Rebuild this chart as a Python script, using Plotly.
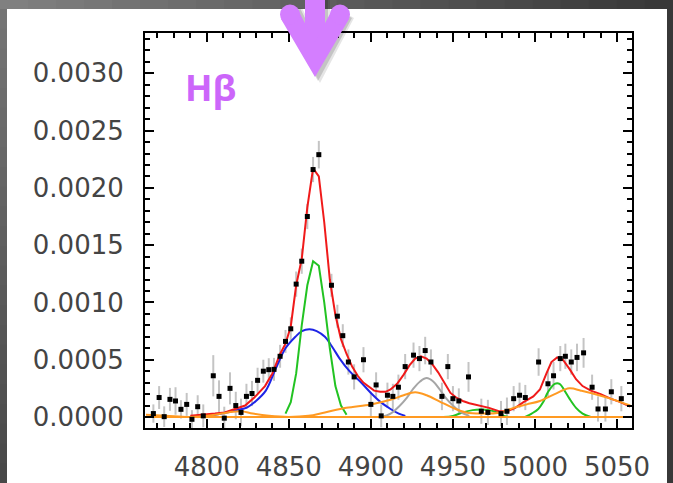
import plotly.graph_objects as go

# ---------------- data ----------------
data_x = [4767.5, 4771.0, 4774.1, 4777.6, 4781.0, 4784.3, 4787.8, 4791.0, 4794.5, 4797.9,
          4804.0, 4807.5, 4810.7, 4814.2, 4817.7, 4820.9, 4824.2, 4827.6, 4831.0, 4834.5,
          4837.8, 4841.0, 4844.7, 4848.0, 4851.2, 4854.5, 4857.9, 4861.3, 4864.8, 4868.3,
          4876.0, 4879.6, 4882.9, 4886.3, 4889.8, 4895.5, 4900.0, 4903.2, 4906.3, 4910.1,
          4913.4, 4916.8, 4920.9, 4926.0, 4929.6, 4933.1, 4936.6, 4943.3, 4946.9, 4950.0,
          4953.6, 4959.5, 4967.3, 4971.3, 4979.3, 4982.9, 4987.0, 4990.6, 4994.1, 5002.2,
          5007.9, 5011.3, 5015.4, 5018.5, 5022.1, 5025.6, 5029.6, 5034.8, 5038.4, 5042.9,
          5046.5, 5052.6]
data_y = [0.00003, 0.00017, 0.000003, 0.000154, 0.00014, 0.000067, 0.00011, -0.00002, 0.00009, 0.00001,
          0.00036, 0.00018, -0.00001, 0.00025, 0.0001, 0.00004, 0.00018, 0.000205, 0.00032, 0.0004,
          0.000413, 0.000416, 0.00053, 0.00066, 0.00077, 0.00116, 0.00136, 0.00175, 0.00216, 0.00229,
          0.00115, 0.00088, 0.00071, 0.00048, 0.00035, 0.0005, 0.00011, 0.00028, 0.00001, 0.00019,
          0.00018, 0.00026, 0.00044, 0.00054, 0.00051, 0.00058, 0.00048, 0.00018, 0.00044, 0.00016,
          0.00014, 0.00035, 0.00005, 0.00004, 0.00003, 0.00005, 0.00016, 0.00019, 0.00017, 0.00048,
          0.00029, 0.00036, 0.00051, 0.00053, 0.00048, 0.00052, 0.00056, 0.00026, 0.00007, 0.00007,
          0.00022, 0.00016]
data_err = [0.00008, 0.0001, 0.00009, 0.0001, 0.00012, 0.00008, 0.0001, 0.00008, 0.0001, 0.0001,
            0.00018, 0.00014, 0.0001, 0.00014, 0.00012, 0.00012, 0.00011, 0.00011, 0.00011, 0.0001,
            0.0001, 0.0001, 0.0001, 0.0001, 0.0001, 0.00011, 0.00011, 0.00011, 0.00011, 0.00012,
            0.0001, 0.0001, 0.0001, 0.00011, 0.00011, 0.00011, 0.00011, 0.00011, 0.0001, 0.00011,
            0.00011, 0.00011, 0.00011, 0.00011, 0.00011, 0.00012, 0.00011, 0.00012, 0.00011, 0.00011,
            0.00011, 0.00013, 0.00011, 0.00011, 0.00011, 0.00012, 0.00011, 0.00011, 0.00011, 0.00012,
            0.00011, 0.00012, 0.00011, 0.00011, 0.00011, 0.00012, 0.00013, 0.00011, 0.00011, 0.00011,
            0.00011, 0.00011]

# total model (red)
total_x = [4790, 4799, 4805, 4811, 4817, 4823.4, 4829, 4835.5, 4840, 4844.7, 4848.0, 4851.2,
           4854.5, 4857.9, 4861.3, 4864.8, 4868.3, 4871.6, 4875.0, 4878.4, 4881.8, 4885.2,
           4888.6, 4892, 4895.4, 4898.8, 4902, 4905.7, 4909, 4912, 4916, 4920, 4923.5, 4927,
           4930.5, 4934, 4937.5, 4941, 4945, 4948.5, 4952, 4956, 4960, 4966, 4972, 4978, 4983,
           4988, 4993, 4999, 5003, 5007, 5010, 5013.5, 5017, 5021, 5025, 5029, 5034, 5040,
           5046, 5052, 5058]
total_y = [0.00001, 0.00002, 0.00003, 0.00004, 0.00007, 0.0001, 0.00017, 0.00027, 0.00038, 0.00055,
           0.00064, 0.00079, 0.00115, 0.00138, 0.00183, 0.00217, 0.0021, 0.0017, 0.0012, 0.00089,
           0.00068, 0.00055, 0.00044, 0.00036, 0.0003, 0.00026, 0.00023, 0.00022, 0.00022, 0.00024,
           0.00029, 0.00037, 0.00045, 0.00051, 0.00053, 0.00051, 0.00046, 0.00039, 0.00029, 0.00021,
           0.00017, 0.00014, 0.00012, 0.0001, 0.00008, 0.00005, 0.00005, 0.00008, 0.00013, 0.00018,
           0.00024, 0.00038, 0.00048, 0.00052, 0.0005, 0.00042, 0.00033, 0.00027, 0.00023, 0.0002,
           0.00016, 0.00013, 0.00009]

# broad H-beta (blue)
broad_x = [4797, 4805, 4812, 4818, 4824, 4830, 4836, 4842, 4848, 4854, 4858, 4862.6, 4867,
           4872, 4877, 4881, 4887, 4893.5, 4900, 4906, 4912, 4917, 4921]
broad_y = [0.000005, 0.00002, 0.00004, 0.00006, 0.00008, 0.00014, 0.00023, 0.00042, 0.0006, 0.0007,
           0.00075, 0.000765, 0.00075, 0.0007, 0.0006, 0.00051, 0.0004, 0.00031, 0.00021, 0.00013,
           0.00007, 0.00003, 0.00001]

# narrow H-beta (green)
narrow_x = [4848.0, 4851.2, 4854.5, 4857.9, 4861.3, 4864.8, 4868.3, 4871.6, 4875.0, 4878.4, 4881.8, 4885.2]
narrow_y = [0.00003, 0.00013, 0.00038, 0.0008, 0.00115, 0.00136, 0.00132, 0.001, 0.0006, 0.00027, 0.0001, 0.00002]

# second narrow lines (green)
oiii_a_x = [4944, 4950, 4956, 4962, 4967, 4972, 4977, 4981, 4984]
oiii_a_y = [0.0, 0.00001, 0.00004, 0.00006, 0.000065, 0.00006, 0.00004, 0.00001, 0.0]
oiii_b_x = [4994, 4998, 5002, 5005, 5008, 5012, 5015, 5018, 5021, 5025, 5029, 5034]
oiii_b_y = [0.0, 0.00003, 0.00007, 0.00013, 0.00022, 0.00029, 0.00029, 0.00023, 0.00016, 0.00008, 0.00003, 0.0]

# grey component
grey_x = [4906, 4912, 4917, 4922, 4926, 4930, 4934, 4938, 4942, 4946, 4950, 4955, 4960]
grey_y = [0.0, 0.00003, 0.00009, 0.00017, 0.00025, 0.00031, 0.00034, 0.00031, 0.00024, 0.00016, 0.0001, 0.00004, 0.00001]

# Fe II / orange component
fe_x = [4763, 4775, 4790, 4805, 4813, 4821, 4828, 4838, 4850, 4862, 4872, 4885, 4900, 4912,
        4920, 4927, 4934, 4942, 4950, 4958, 4967, 4979, 4987, 4995, 5003, 5012, 5021, 5028,
        5034, 5046, 5058]
fe_y = [0.00002, 0.000012, 0.0, 0.00002, 0.00004, 0.00005, 0.00003, 0.00001, 0.0, 0.00001,
        0.00004, 0.00008, 0.00011, 0.00015, 0.00019, 0.000215, 0.00019, 0.000135, 0.00008, 0.00004,
        0.00003, 0.00004, 0.00008, 0.00011, 0.00014, 0.0002, 0.00025, 0.00023, 0.00021, 0.00016, 0.0001]

# continuum (flat orange)
cont_x = [4763, 5059]
cont_y = [0.0, 0.0]

x_range = [4762.4, 5059.1]
y_range = [-0.000096, 0.003352]
label_text = "Hβ"

# ---------------- figure ----------------
W, H = 673, 483
L, R, T, B = 145, 632, 33, 428


def pxx(x):
    return (x - L) / (R - L)


def pxy(y):
    return (B - y) / (B - T)


fig = go.Figure()

# error bars (under everything)
fig.add_trace(go.Scatter(
    x=data_x, y=data_y, mode="markers",
    marker=dict(size=1, color="rgba(0,0,0,0)"),
    error_y=dict(type="data", array=data_err, visible=True, color="#C4C4C4", thickness=2, width=0),
    showlegend=False, hoverinfo="skip"))

fig.add_trace(go.Scatter(x=broad_x, y=broad_y, mode="lines", line=dict(color="#1E24E6", width=2, shape="spline"), showlegend=False))
fig.add_trace(go.Scatter(x=narrow_x, y=narrow_y, mode="lines", line=dict(color="#22C322", width=2), showlegend=False))
fig.add_trace(go.Scatter(x=oiii_a_x, y=oiii_a_y, mode="lines", line=dict(color="#22C322", width=2, shape="spline"), showlegend=False))
fig.add_trace(go.Scatter(x=oiii_b_x, y=oiii_b_y, mode="lines", line=dict(color="#22C322", width=2, shape="spline"), showlegend=False))
fig.add_trace(go.Scatter(x=grey_x, y=grey_y, mode="lines", line=dict(color="#A6A6A6", width=2, shape="spline"), showlegend=False))
fig.add_trace(go.Scatter(x=total_x, y=total_y, mode="lines", line=dict(color="#F01A1A", width=2), showlegend=False))
fig.add_trace(go.Scatter(x=fe_x, y=fe_y, mode="lines", line=dict(color="#FF9A22", width=2, shape="spline"), showlegend=False))
fig.add_trace(go.Scatter(x=cont_x, y=cont_y, mode="lines", line=dict(color="#FF9A22", width=2), showlegend=False))

fig.add_trace(go.Scatter(
    x=data_x, y=data_y, mode="markers",
    marker=dict(symbol="square", size=5, color="black"),
    showlegend=False))

shapes = []
# background frame: gray gradient border + white panel
shapes.append(dict(type="rect", xref="paper", yref="paper", layer="below",
                   x0=pxx(0), x1=pxx(W), y0=pxy(H), y1=pxy(0),
                   fillcolor="#4E4E4E", line=dict(width=0)))
n = 24
for i in range(n):
    t = i / (n - 1)
    c = int(round(0x80 + (0x38 - 0x80) * t))
    shapes.append(dict(type="rect", xref="paper", yref="paper", layer="below",
                       x0=pxx(W * i / n), x1=pxx(W * (i + 1) / n + 1), y0=pxy(9), y1=pxy(0),
                       fillcolor="#%02x%02x%02x" % (c, c, c), line=dict(width=0)))
for i in range(n):
    t = i / (n - 1)
    c = int(round(0x74 + (0x48 - 0x74) * t))
    shapes.append(dict(type="rect", xref="paper", yref="paper", layer="below",
                       x0=pxx(0), x1=pxx(7), y0=pxy(9 + (H - 9) * (i + 1) / n + 1), y1=pxy(9 + (H - 9) * i / n),
                       fillcolor="#%02x%02x%02x" % (c, c, c), line=dict(width=0)))
shapes.append(dict(type="rect", xref="paper", yref="paper", layer="below",
                   x0=pxx(667), x1=pxx(W), y0=pxy(H), y1=pxy(9),
                   fillcolor="#383838", line=dict(width=0)))
shapes.append(dict(type="rect", xref="paper", yref="paper", layer="below",
                   x0=pxx(7), x1=pxx(667), y0=pxy(H), y1=pxy(9),
                   fillcolor="white", line=dict(width=0)))


def path(points):
    s = "M " + " L ".join("%.5f,%.5f" % (pxx(a), pxy(b)) for a, b in points) + " Z"
    return s


arrow_col = "#D47EFF"
# soft shadow
for off, op in [(4, 0.10), (2, 0.14)]:
    shapes.append(dict(type="path", xref="paper", yref="paper",
                       path=path([(304 + off, -2), (326 + off, -2), (326 + off, 20), (332 + off, 8), (350 + off, 18),
                                  (316 + off, 79 + off), (280 + off, 18), (298 + off, 8), (304 + off, 20)]),
                       fillcolor="rgba(0,0,0,%.2f)" % op, line=dict(width=0)))
shapes.append(dict(type="rect", xref="paper", yref="paper",
                   x0=pxx(305), x1=pxx(325), y0=pxy(52), y1=pxy(-2),
                   fillcolor=arrow_col, line=dict(width=0)))
shapes.append(dict(type="path", xref="paper", yref="paper",
                   path=path([(281, 19), (315, 77), (349, 19), (332, 10), (315, 42), (298, 10)]),
                   fillcolor=arrow_col, line=dict(width=0)))
for cx in (290, 340):
    shapes.append(dict(type="circle", xref="paper", yref="paper",
                       x0=pxx(cx - 10), x1=pxx(cx + 10), y0=pxy(24.5), y1=pxy(4.5),
                       fillcolor=arrow_col, line=dict(width=0)))

tickfont = dict(family="DejaVu Sans", size=26, color="#444444")

fig.update_layout(
    width=W, height=H, autosize=False,
    margin=dict(l=L, r=W - R, t=T, b=H - B, pad=0),
    paper_bgcolor="#4E4E4E", plot_bgcolor="white",
    shapes=shapes,
    annotations=[dict(text="<b>" + label_text + "</b>", xref="paper", yref="paper",
                      x=pxx(210), y=pxy(88), xanchor="center", yanchor="middle",
                      showarrow=False, font=dict(family="Open Sans", size=36, color="#CC66FA"))],
    xaxis=dict(range=x_range, tickmode="linear", tick0=4800, dtick=50, automargin=False,
               ticks="inside", ticklen=9, tickwidth=2, tickcolor="black",
               showline=True, linecolor="black", linewidth=2, mirror="allticks",
               showgrid=False, zeroline=False, tickfont=tickfont, ticklabelstandoff=15,
               minor=dict(dtick=10, tick0=4800, ticks="inside", ticklen=5, tickwidth=1.5, tickcolor="black", showgrid=False)),
    yaxis=dict(range=y_range, tickmode="linear", tick0=0, dtick=0.0005, tickformat=".4f", automargin=False,
               ticks="inside", ticklen=9, tickwidth=2, tickcolor="black",
               showline=True, linecolor="black", linewidth=2, mirror="allticks",
               showgrid=False, zeroline=False, tickfont=tickfont, ticklabelstandoff=14,
               minor=dict(dtick=0.0001, tick0=0, ticks="inside", ticklen=5, tickwidth=1.5, tickcolor="black", showgrid=False)),
)

fig.write_html("out.html")
